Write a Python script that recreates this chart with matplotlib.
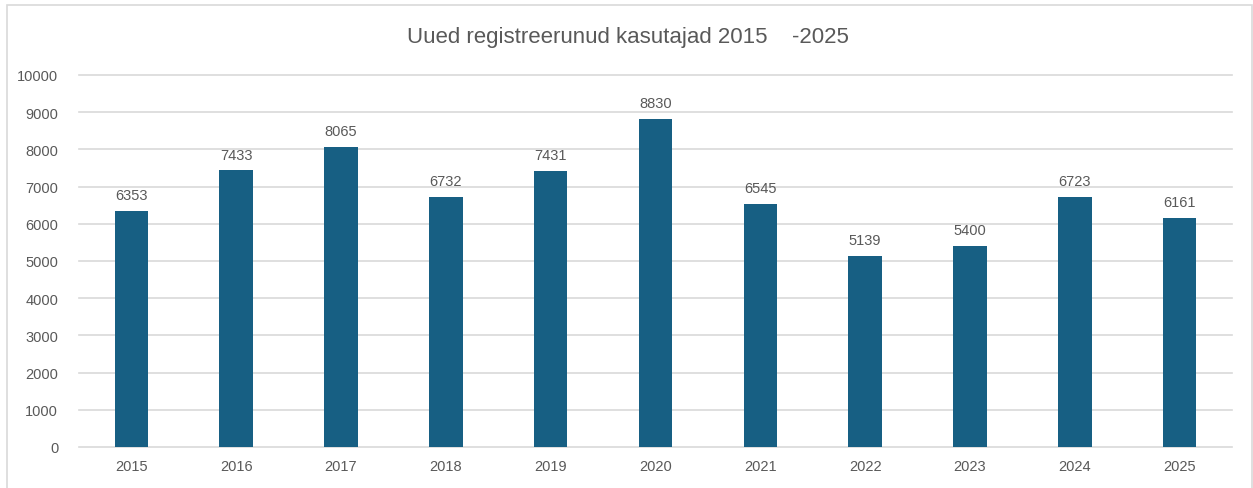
import matplotlib.pyplot as plt
from matplotlib.patches import Rectangle

years = ['2015', '2016', '2017', '2018', '2019', '2020', '2021', '2022', '2023', '2024', '2025']
users = [6353, 7433, 8065, 6732, 7431, 8830, 6545, 5139, 5400, 6723, 6161]
y_ticks = [0, 1000, 2000, 3000, 4000, 5000, 6000, 7000, 8000, 9000, 10000]

plt.rcParams['font.family'] = ['Liberation Sans', 'DejaVu Sans']

txt = '#595959'
bar_col = '#175f83'

W, H = 1253, 489
fig = plt.figure(figsize=(W / 100, H / 100), dpi=100)

# chart frame
fig.patches.append(Rectangle((7 / W, -0.01), (1252 - 7) / W, 1 - 6 / H + 0.01,
                             transform=fig.transFigure, fill=False,
                             edgecolor='#d9d9d9', linewidth=1.2))

ax = fig.add_axes([79 / W, 1 - 448 / H, (1232 - 79) / W, (448 - 76) / H])
x = range(len(years))
ax.bar(x, users, width=0.32, color=bar_col, zorder=3)
for i, v in enumerate(users):
    ax.text(i, v + 240, str(v), ha='center', va='bottom', fontsize=10.5, color=txt)

ax.set_xlim(-0.5, len(years) - 0.5)
ax.set_ylim(0, 10000)
ax.set_yticks(y_ticks)
ax.set_yticklabels([str(t) for t in y_ticks])
ax.set_xticks(list(x))
ax.set_xticklabels(years)
ax.tick_params(length=0, labelsize=10.5, labelcolor=txt)
ax.tick_params(axis='y', pad=15)
ax.tick_params(axis='x', pad=9)
ax.grid(axis='y', color='#d9d9d9', linewidth=1.2, zorder=0)
for gl in ax.get_ygridlines():
    gl.set_clip_on(False)
for s in ax.spines.values():
    s.set_visible(False)

fig.text(628 / W, 1 - 38 / H, 'Uued registreerunud kasutajad 2015    -2025',
         ha='center', va='center', fontsize=16, color=txt)

fig.savefig('out.png', dpi=100)
